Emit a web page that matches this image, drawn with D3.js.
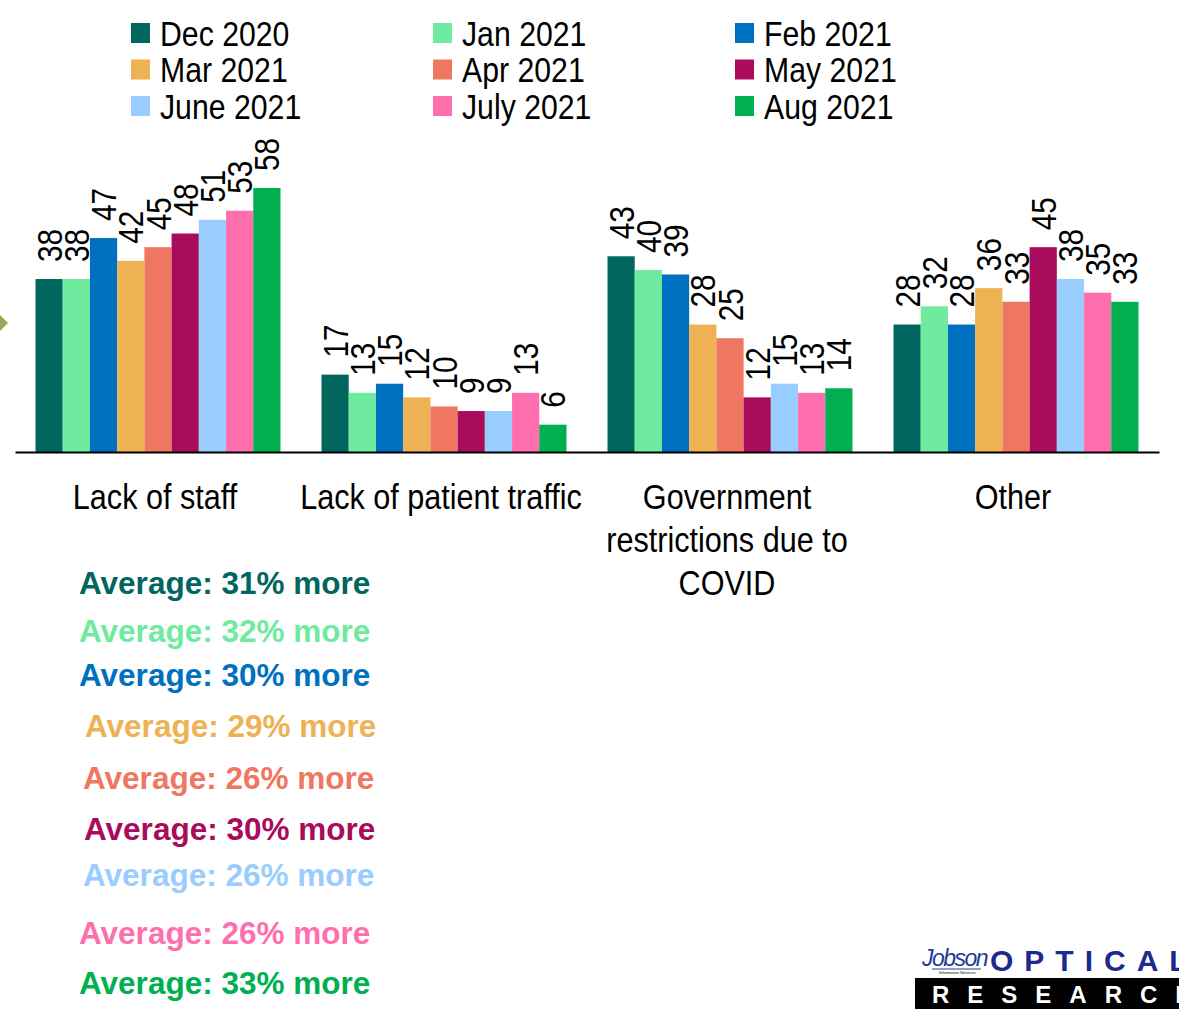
<!DOCTYPE html>
<html>
<head>
<meta charset="utf-8">
<script src="https://cdn.jsdelivr.net/npm/d3@7"></script>
<style>
  body { margin: 0; background: #fff; }
  svg { display: block; }
  text { font-family: "Liberation Sans", Arial, sans-serif; }
</style>
</head>
<body>
<svg id="chart" width="1179" height="1009"></svg>
<script>
const categories = ["Lack of staff", "Lack of patient traffic", "Government restrictions due to COVID", "Other"];
const months = ["Dec 2020", "Jan 2021", "Feb 2021", "Mar 2021", "Apr 2021", "May 2021", "June 2021", "July 2021", "Aug 2021"];
const colors = ["#00665e", "#6eeb9e", "#0070c0", "#eeb153", "#ef7660", "#a80c5a", "#99ccff", "#ff6fae", "#00b050"];

const lackOfStaff = [38, 38, 47, 42, 45, 48, 51, 53, 58];
const lackOfTraffic = [17, 13, 15, 12, 10, 9, 9, 13, 6];
const govRestrictions = [43, 40, 39, 28, 25, 12, 15, 13, 14];
const other = [28, 32, 28, 36, 33, 45, 38, 35, 33];

const averages = ["31", "32", "30", "29", "26", "30", "26", "26", "33"];
// small horizontal nudges of the average lines, as in the slide
const avgOffsetX = [0, 0, 0, 6, 4, 5, 4, 0, 0];
const avgY = [583, 631, 675, 726, 778, 829, 875, 933, 983];

const seriesByCat = [lackOfStaff, lackOfTraffic, govRestrictions, other];

const data = categories.map((c, i) => ({
    cat: c,
    values: months.map((m, j) => ({ month: m, value: seriesByCat[i][j], color: colors[j] }))
}));

// the slide uses a condensed face; squeeze the regular one instead
const narrowAxis = 0.85;
const narrowLegend = 0.84;
const narrowLabel = 0.85;

const svg = d3.select("#chart");
const attr_area = { left: 15, right: 1159, baseline: 452, top: 188 };

const scaleX = d3.scaleBand()
    .domain(categories)
    .range([attr_area.left, attr_area.right]);

const groupWidth = 245;
const scaleInner = d3.scaleBand()
    .domain(months)
    .range([0, groupWidth]);

const scaleY = d3.scaleLinear()
    .domain([0, 58])
    .range([attr_area.baseline, attr_area.top]);

// bars
const groups = svg.append("g")
    .selectAll("g")
    .data(data)
    .join("g")
    .attr("transform", d => `translate(${scaleX(d.cat) + (scaleX.bandwidth() - groupWidth) / 2}, 0)`);

groups.selectAll("rect")
    .data(d => d.values)
    .join("rect")
    .attr("x", d => scaleInner(d.month))
    .attr("y", d => scaleY(d.value))
    .attr("width", scaleInner.bandwidth())
    .attr("height", d => attr_area.baseline - scaleY(d.value))
    .attr("fill", d => d.color);

groups.selectAll("text")
    .data(d => d.values)
    .join("text")
    .attr("transform", d => `translate(${scaleInner(d.month) + scaleInner.bandwidth() / 2}, ${scaleY(d.value) - 17}) rotate(-90) scale(${narrowLabel}, 1)`)
    .attr("dy", "0.36em")
    .attr("font-size", 35)
    .attr("fill", "#000")
    .text(d => d.value);

// x axis
const axis = svg.append("g")
    .attr("transform", `translate(0, ${attr_area.baseline})`)
    .call(d3.axisBottom(scaleX).tickSize(0).tickSizeOuter(0).tickPadding(0));

axis.select(".domain").attr("stroke", "#000").attr("stroke-width", 2);

axis.selectAll(".tick text")
    .attr("font-size", 36)
    .attr("fill", "#000")
    .attr("x", 0)
    .attr("y", 0)
    .attr("dy", null)
    .attr("transform", `translate(-3, 0) scale(${narrowAxis}, 1)`)
    .each(function (d) {
        const t = d3.select(this);
        const words = d.split(" ");
        const lines = [];
        let line = [];
        t.text(null);
        const probe = t.append("tspan");
        words.forEach(w => {
            line.push(w);
            probe.text(line.join(" "));
            if (probe.node().getComputedTextLength() > 360 && line.length > 1) {
                line.pop();
                lines.push(line.join(" "));
                line = [w];
            }
        });
        lines.push(line.join(" "));
        probe.remove();
        lines.forEach((l, i) => {
            t.append("tspan")
                .attr("x", 0)
                .attr("y", 57 + i * 43)
                .text(l);
        });
    });

// legend
const legend = svg.append("g");
const legendItems = legend.selectAll("g")
    .data(months)
    .join("g")
    .attr("transform", (d, i) => `translate(${131 + (i % 3) * 302}, ${33 + Math.floor(i / 3) * 36.5})`);

legendItems.append("rect")
    .attr("x", 0)
    .attr("y", -10)
    .attr("width", 19)
    .attr("height", 20)
    .attr("fill", (d, i) => colors[i]);

legendItems.append("text")
    .attr("transform", `translate(29, 0) scale(${narrowLegend}, 1)`)
    .attr("dy", "0.36em")
    .attr("font-size", 36)
    .attr("fill", "#000")
    .text(d => d);

// averages
svg.append("g")
    .selectAll("text")
    .data(averages)
    .join("text")
    .attr("x", (d, i) => 79 + avgOffsetX[i])
    .attr("y", (d, i) => avgY[i])
    .attr("dy", "0.36em")
    .attr("font-weight", "bold")
    .attr("font-size", 31.5)
    .attr("fill", (d, i) => colors[i])
    .text(d => `Average: ${d}% more`);

// little marker at the left edge
svg.append("path")
    .attr("d", "M-8,323 L0,315 L8,323 L0,331 Z")
    .attr("fill", "#8fb339");
svg.append("path")
    .attr("d", "M-4,323 L0,319 L4,323 L0,327 Z")
    .attr("fill", "#9a9a9a");

// logo
const logo = svg.append("g");
logo.append("text")
    .attr("x", 922)
    .attr("y", 966)
    .attr("font-family", "'Liberation Serif', serif")
    .attr("font-style", "italic")
    .attr("font-size", 23)
    .attr("letter-spacing", -1.5)
    .attr("fill", "#1f3a93")
    .text("Jobson");
logo.append("line")
    .attr("x1", 932).attr("x2", 981)
    .attr("y1", 969).attr("y2", 969)
    .attr("stroke", "#1f3a93").attr("stroke-width", 1);
logo.append("text")
    .attr("x", 939)
    .attr("y", 973.5)
    .attr("font-size", 4)
    .attr("fill", "#000")
    .text("Information Services");
logo.append("text")
    .attr("x", 990)
    .attr("y", 971)
    .attr("font-weight", "bold")
    .attr("font-size", 30)
    .attr("letter-spacing", 11)
    .attr("fill", "#1c2a8c")
    .text("OPTICAL");
logo.append("rect")
    .attr("x", 915)
    .attr("y", 978)
    .attr("width", 264)
    .attr("height", 31)
    .attr("fill", "#000");
logo.append("text")
    .attr("x", 932)
    .attr("y", 1003)
    .attr("font-weight", "bold")
    .attr("font-size", 24)
    .attr("letter-spacing", 18)
    .attr("fill", "#fff")
    .text("RESEARCH");
</script>
</body>
</html>
